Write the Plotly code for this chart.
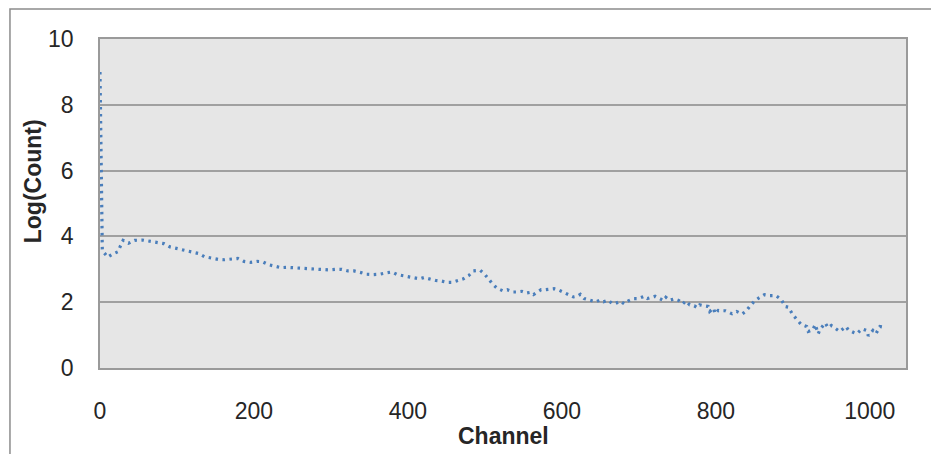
import plotly.graph_objects as go

channel = [0, 3, 10, 16, 23, 27, 30, 37, 45, 55, 64, 74, 83, 91, 100, 110, 119, 128, 136, 145,
           154, 162, 171, 179, 187, 196, 204, 211, 219, 227, 235, 243, 251, 259, 267, 275, 283,
           291, 298, 307, 314, 322, 330, 339, 346, 355, 363, 371, 379, 386, 393, 400, 408, 415,
           421, 429, 436, 444, 451, 457, 464, 472, 479, 485, 494, 500, 506, 510, 516, 523, 529,
           537, 541, 548, 554, 559, 563, 569, 573, 579, 585, 590, 595, 600, 605, 610, 615, 620,
           624, 629, 633, 639, 644, 649, 654, 660, 666, 671, 676, 681, 687, 693, 699, 707, 711,
           717, 721, 727, 732, 735, 740, 746, 752, 757, 761, 766, 772, 776, 779, 785, 790, 792,
           797, 799, 803, 805, 812, 821, 827, 834, 839, 844, 850, 856, 863, 870, 878, 885, 890,
           894, 900, 906, 911, 918, 920, 926, 929, 933, 935, 942, 946, 950, 957, 961, 969, 972,
           979, 983, 990, 996, 998, 1004, 1008, 1013, 1020]

log_count = [9.00, 3.57, 3.37, 3.46, 3.53, 3.72, 3.88, 3.79, 3.88, 3.89, 3.85, 3.82, 3.78, 3.68,
             3.63, 3.57, 3.53, 3.48, 3.38, 3.33, 3.30, 3.29, 3.31, 3.33, 3.24, 3.21, 3.24, 3.23,
             3.14, 3.09, 3.05, 3.06, 3.05, 3.03, 3.03, 3.01, 2.99, 2.98, 2.98, 3.00, 3.00, 2.95,
             2.95, 2.90, 2.85, 2.84, 2.85, 2.89, 2.92, 2.84, 2.81, 2.77, 2.75, 2.71, 2.75, 2.70,
             2.66, 2.64, 2.60, 2.60, 2.64, 2.71, 2.81, 2.95, 2.97, 2.84, 2.67, 2.55, 2.42, 2.35,
             2.38, 2.31, 2.31, 2.33, 2.28, 2.30, 2.23, 2.32, 2.38, 2.38, 2.40, 2.41, 2.38, 2.33,
             2.26, 2.23, 2.16, 2.18, 2.24, 2.11, 2.08, 2.03, 2.01, 2.06, 2.01, 2.06, 1.95, 1.98,
             2.03, 1.95, 2.05, 2.11, 2.11, 2.18, 2.11, 2.15, 2.18, 2.11, 2.05, 2.15, 2.06, 2.10,
             2.05, 1.95, 2.04, 1.92, 1.89, 1.83, 1.92, 1.89, 1.87, 1.72, 1.82, 1.65, 1.75, 1.74,
             1.74, 1.65, 1.72, 1.64, 1.72, 1.87, 2.03, 2.13, 2.23, 2.20, 2.20, 2.08, 1.87, 1.85,
             1.62, 1.45, 1.32, 1.26, 1.11, 1.16, 1.32, 1.04, 1.16, 1.37, 1.22, 1.29, 1.16, 1.11,
             1.26, 1.16, 1.08, 1.04, 1.19, 1.14, 0.98, 1.14, 1.04, 1.26, 1.23]

x_ticks = [0, 200, 400, 600, 800, 1000]
y_ticks = [0, 2, 4, 6, 8, 10]
x_title = "Channel"
y_title = "Log(Count)"

fig = go.Figure(go.Scatter(
    x=channel, y=log_count, mode="lines",
    line=dict(color="#4A7EBB", width=3.2, dash="2.5px,4.5px"),
    hoverinfo="skip",
))

# page body has an 8px margin, so the figure is sized to fit the 939x454 window
fig.update_layout(
    width=931, height=446,
    margin=dict(l=92, r=33, t=31, b=86, autoexpand=False),
    paper_bgcolor="white", plot_bgcolor="#E6E6E6",
    showlegend=False,
    font=dict(family="Liberation Sans", size=23, color="#262626"),
)

fig.update_xaxes(
    range=[0, 1047], tickvals=x_ticks, showgrid=False, zeroline=False,
    showline=True, linecolor="#9A9A9A", linewidth=1.5, mirror=True,
    ticks="", ticklabelstandoff=22,
)
fig.update_yaxes(
    range=[0, 10], tickvals=y_ticks, showgrid=True, gridcolor="#A0A0A0", gridwidth=1.5,
    zeroline=False, showline=True, linecolor="#9A9A9A", linewidth=1.5, mirror=True,
    ticks="", ticklabelstandoff=20,
)

fig.add_annotation(text="<b>" + x_title + "</b>", xref="paper", yref="paper",
                   x=0.5, y=-0.207, xanchor="center", yanchor="middle", showarrow=False,
                   font=dict(size=23, family="Liberation Sans", color="#262626"))
fig.add_annotation(text="<b>" + y_title + "</b>", xref="paper", yref="paper",
                   x=-0.083, y=0.568, xanchor="center", yanchor="middle", showarrow=False,
                   textangle=-90,
                   font=dict(size=23, family="Liberation Sans", color="#262626"))

fig.add_shape(type="rect", xref="paper", yref="paper",
              x0=-0.1117, x1=1.0372, y0=-0.32, y1=1.0912,
              line=dict(color="#8C8C8C", width=1.5), fillcolor="rgba(0,0,0,0)", layer="below")

fig.write_html("out.html")
